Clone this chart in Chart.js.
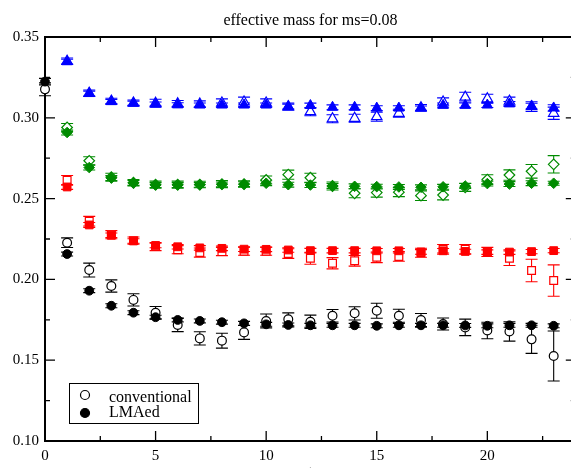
<!DOCTYPE html>
<html>
<head>
<meta charset="utf-8">
<script src="https://cdn.jsdelivr.net/npm/chart.js@4.4.1/dist/chart.umd.min.js"></script>
<style>
html,body{margin:0;padding:0;overflow:hidden;background:#fff;}
canvas{display:block;}
</style>
</head>
<body>
<canvas id="plot" width="583" height="490"></canvas>
<script>
// time slices
const steps = [1,2,3,4,5,6,7,8,9,10,11,12,13,14,15,16,17,18,19,20,21,22,23];
const stepsFromZero = [0,1,2,3,4,5,6,7,8,9,10,11,12,13,14,15,16,17,18,19,20,21,22,23];

const blueLma = [0.3347,0.3150,0.3100,0.3090,0.3085,0.3080,0.3079,0.3079,0.3079,0.3079,0.3069,0.3076,0.3065,0.3065,0.3060,0.3060,0.3060,0.3077,0.3077,0.3079,0.3086,0.3072,0.3061];
const blueLmaErr = [0.0015,0.0015,0.0013,0.0013,0.0013,0.0013,0.0013,0.0013,0.0013,0.0013,0.0015,0.0015,0.0015,0.0015,0.0015,0.0015,0.0013,0.0015,0.0015,0.0015,0.0015,0.0018,0.002];
const blueConv = [0.3350,0.3152,0.3103,0.3092,0.3090,0.3087,0.3085,0.3092,0.3098,0.3092,0.3069,0.3038,0.2994,0.2997,0.3007,0.3028,0.3062,0.3098,0.3128,0.3118,0.3103,0.3069,0.3028];
const blueConvErr = [0.002,0.002,0.0018,0.0018,0.0025,0.002,0.002,0.0025,0.003,0.0025,0.0022,0.0025,0.0025,0.0025,0.0028,0.0025,0.002,0.0025,0.003,0.0028,0.0025,0.003,0.0038];

const greenLma = [0.2909,0.2692,0.2627,0.2597,0.2584,0.2584,0.2585,0.2588,0.2589,0.2595,0.2586,0.2584,0.2578,0.2576,0.2574,0.2572,0.2570,0.2573,0.2578,0.2593,0.2590,0.2595,0.2595];
const greenLmaErr = [0.0015,0.0015,0.0015,0.0015,0.0015,0.0015,0.0015,0.0015,0.0015,0.0015,0.0015,0.0015,0.0015,0.0015,0.0015,0.0015,0.0015,0.0015,0.0015,0.0015,0.0015,0.0015,0.0012];
const greenConv = [0.2940,0.2734,0.2632,0.2598,0.2586,0.2586,0.2587,0.2590,0.2590,0.2615,0.2648,0.2629,0.2578,0.2533,0.2537,0.2540,0.2518,0.2522,0.2570,0.2618,0.2646,0.2669,0.2712];
const greenConvErr = [0.0025,0.0025,0.0025,0.002,0.0022,0.0022,0.002,0.0022,0.002,0.0025,0.0028,0.0028,0.0025,0.0028,0.0028,0.0028,0.003,0.003,0.0025,0.003,0.0032,0.0042,0.0054];

const redLma = [0.2572,0.2337,0.2273,0.2238,0.2210,0.2202,0.2195,0.2192,0.2187,0.2186,0.2182,0.2178,0.2178,0.2178,0.2177,0.2177,0.2170,0.2177,0.2173,0.2169,0.2169,0.2172,0.2178];
const redLmaErr = [0.0015,0.0015,0.0014,0.0014,0.0014,0.0014,0.0014,0.0014,0.0014,0.0014,0.0014,0.0014,0.0014,0.0014,0.0014,0.0014,0.0014,0.0014,0.0014,0.0014,0.0014,0.0013,0.0013];
const redConv = [0.2613,0.2360,0.2277,0.2240,0.2203,0.2184,0.2166,0.2172,0.2174,0.2174,0.2160,0.2131,0.2100,0.2115,0.2137,0.2142,0.2165,0.2186,0.2186,0.2170,0.2131,0.2055,0.1993];
const redConvErr = [0.003,0.003,0.0025,0.0022,0.0025,0.0025,0.0028,0.0025,0.0025,0.0025,0.003,0.0037,0.0035,0.0033,0.0033,0.003,0.0028,0.003,0.003,0.0028,0.0045,0.007,0.0097];

const blackLma = [0.3224,0.2157,0.1930,0.1837,0.1794,0.1766,0.1749,0.1743,0.1735,0.1728,0.1722,0.1718,0.1716,0.1716,0.1716,0.1713,0.1716,0.1716,0.1716,0.1715,0.1713,0.1716,0.1716,0.1713];
const blackLmaErr = [0.002,0.0012,0.0012,0.0012,0.0012,0.0012,0.0012,0.0012,0.0012,0.0012,0.0012,0.0012,0.0012,0.0012,0.0012,0.0012,0.0012,0.0012,0.0012,0.0012,0.0012,0.0012,0.0012,0.0012];
const blackConv = [0.3176,0.2227,0.2058,0.1959,0.1873,0.1794,0.1718,0.1635,0.1621,0.1672,0.1743,0.1753,0.1738,0.1775,0.1790,0.1806,0.1775,0.1749,0.1724,0.1703,0.1684,0.1678,0.1629,0.1526];
const blackConvErr = [0.004,0.003,0.0043,0.0038,0.0038,0.0038,0.0041,0.0041,0.0046,0.0043,0.0043,0.004,0.0041,0.0039,0.0041,0.0046,0.004,0.004,0.0037,0.0051,0.0051,0.006,0.0087,0.0155];

const xMajorTicks = [0,5,10,15,20];
const xMinorTicks = [2.5,7.5,12.5,17.5,22.5];
const yMajorTicks = [0.10,0.15,0.20,0.25,0.30,0.35];
const yMinorTicks = [0.125,0.175,0.225,0.275,0.325];

const titleText = 'effective mass for ms=0.08';
const legendLabels = ['conventional','LMAed'];

const serif = '"Liberation Serif", "DejaVu Serif", serif';

function pts(xs, ys, errs){
    return xs.map((x,i)=>({x:x, y:ys[i], err:errs[i]}));
}

function series(xs, ys, errs, color, shape, radius, open){
    return {
        data: pts(xs, ys, errs),
        pointStyle: shape,
        pointRadius: radius,
        pointBorderWidth: open ? 1.2 : 1,
        pointBorderColor: color,
        pointBackgroundColor: open ? '#ffffff' : color,
        borderColor: color,
        showLine: false,
        clip: false,
        order: open ? 1 : 0
    };
}

const errorBars = {
    id: 'errorBars',
    beforeDatasetsDraw(chart){
        const ctx = chart.ctx, xs = chart.scales.x, ys = chart.scales.y;
        ctx.save();
        ctx.lineWidth = 1.1;
        chart.data.datasets.forEach(ds=>{
            ctx.strokeStyle = ds.borderColor;
            ds.data.forEach(p=>{
                const px = xs.getPixelForValue(p.x);
                const top = ys.getPixelForValue(p.y + p.err);
                const bot = ys.getPixelForValue(p.y - p.err);
                ctx.beginPath();
                ctx.moveTo(px, top); ctx.lineTo(px, bot);
                ctx.moveTo(px-6, top); ctx.lineTo(px+6, top);
                ctx.moveTo(px-6, bot); ctx.lineTo(px+6, bot);
                ctx.stroke();
            });
        });
        ctx.restore();
    }
};

const frame = {
    id: 'frame',
    afterDraw(chart){
        const ctx = chart.ctx, a = chart.chartArea, xs = chart.scales.x, ys = chart.scales.y;
        ctx.save();
        ctx.strokeStyle = '#000';
        // top and right border
        ctx.lineWidth = 2;
        ctx.beginPath();
        ctx.moveTo(a.left, a.top); ctx.lineTo(a.right, a.top); ctx.lineTo(a.right, a.bottom);
        ctx.stroke();
        // inward ticks on all four sides
        ctx.lineWidth = 1.3;
        ctx.beginPath();
        const xt = (v, len)=>{
            const px = xs.getPixelForValue(v);
            ctx.moveTo(px, a.bottom); ctx.lineTo(px, a.bottom - len);
            ctx.moveTo(px, a.top); ctx.lineTo(px, a.top + len);
        };
        const yt = (v, len)=>{
            const py = ys.getPixelForValue(v);
            ctx.moveTo(a.left, py); ctx.lineTo(a.left + len, py);
            ctx.moveTo(a.right, py); ctx.lineTo(a.right - len, py);
        };
        xMajorTicks.forEach(v=>xt(v, 10));
        xMinorTicks.forEach(v=>xt(v, 5));
        yMajorTicks.forEach(v=>yt(v, 10));
        yMinorTicks.forEach(v=>yt(v, 5));
        ctx.stroke();

        // title
        ctx.fillStyle = '#000';
        ctx.font = '16px ' + serif;
        ctx.textAlign = 'center';
        ctx.textBaseline = 'alphabetic';
        const cx = (a.left + a.right) / 2;
        ctx.fillText(titleText, cx, 25);
        // axis title, mostly below the window
        ctx.font = '17px ' + serif;
        ctx.fillText('t', cx, 477);

        // legend
        ctx.lineWidth = 1;
        ctx.strokeRect(69.5, 383.5, 129, 40);
        ctx.lineWidth = 1.2;
        ctx.beginPath(); ctx.arc(85, 395, 4.5, 0, Math.PI*2);
        ctx.fillStyle = '#fff'; ctx.fill(); ctx.stroke();
        ctx.beginPath(); ctx.arc(85, 413, 4.5, 0, Math.PI*2);
        ctx.fillStyle = '#000'; ctx.fill(); ctx.stroke();
        ctx.font = '16px ' + serif;
        ctx.textAlign = 'left';
        ctx.fillText(legendLabels[0], 109, 401.5);
        ctx.fillText(legendLabels[1], 109, 417);
        ctx.restore();
    }
};

const blue = '#0000ff', green = '#008b00', red = '#ff0000', black = '#000000';

const data = {
    datasets: [
        series(steps, blueConv, blueConvErr, blue, 'triangle', 6, true),
        series(steps, blueLma, blueLmaErr, blue, 'triangle', 6, false),
        series(steps, greenConv, greenConvErr, green, 'rectRot', 5.3, true),
        series(steps, greenLma, greenLmaErr, green, 'rectRot', 5.3, false),
        series(steps, redConv, redConvErr, red, 'rect', 5.5, true),
        series(steps, redLma, redLmaErr, red, 'rect', 5.5, false),
        series(stepsFromZero, blackConv, blackConvErr, black, 'circle', 4.4, true),
        series(stepsFromZero, blackLma, blackLmaErr, black, 'circle', 4.4, false)
    ]
};

const config = {
    type: 'scatter',
    data: data,
    options: {
        responsive: false,
        animation: false,
        layout: {padding: {top: 37, right: 2, left: 0, bottom: 0}},
        plugins: {legend: {display: false}, tooltip: {enabled: false}},
        scales: {
            x: {
                type: 'linear', min: 0, max: 24,
                grid: {display: false, drawTicks: false},
                border: {color: '#000', width: 2},
                ticks: {
                    stepSize: 5, autoSkip: false, maxRotation: 0, padding: 6, color: '#000',
                    font: {family: serif, size: 15},
                    callback: v => xMajorTicks.includes(v) ? String(v) : ''
                },
                afterFit: s => { s.height = 49; }
            },
            y: {
                type: 'linear', min: 0.10, max: 0.35,
                grid: {display: false, drawTicks: false},
                border: {color: '#000', width: 2},
                ticks: {
                    stepSize: 0.05, padding: 6, color: '#000',
                    font: {family: serif, size: 15},
                    callback: v => Number(v).toFixed(2)
                },
                afterFit: s => { s.width = 45; }
            }
        }
    },
    plugins: [errorBars, frame]
};

let ctx = document.getElementById('plot').getContext('2d');
let chart = new Chart(ctx, config);
</script>
</body>
</html>
